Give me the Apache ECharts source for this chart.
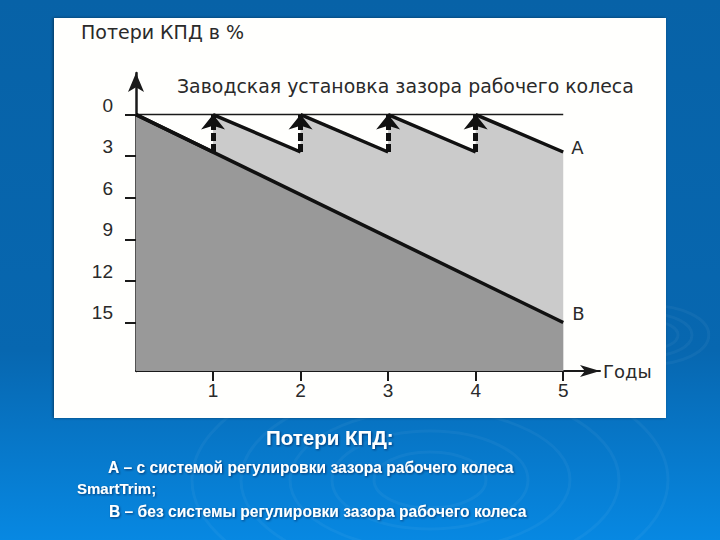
<!DOCTYPE html>
<html>
<head>
<meta charset="utf-8">
<script src="https://cdn.jsdelivr.net/npm/echarts@6/dist/echarts.min.js"></script>
<style>
  html, body { margin:0; padding:0; width:720px; height:540px; overflow:hidden;
    background: linear-gradient(to bottom, #0762a7 0%, #0767b0 65%, #0788e2 100%); }
  #chart { width:720px; height:540px; }
</style>
</head>
<body>
<div id="chart"></div>
<script>
// ---- data ----
const yTickValues = [0, 3, 6, 9, 12, 15];          // loss, %
const xTickValues = [1, 2, 3, 4, 5];               // years
const startYear = 0.12;                             // curves start at the vertical axis
const aYears = [0.12, 1, 1, 2, 2, 3, 3, 4, 4, 5];   // A: with SmartTrim (sawtooth)
const aLoss  = [0, 2.7, 0, 2.7, 0, 2.7, 0, 2.7, 0, 2.7];
const bYears = [0.12, 5];                           // B: without adjustment
const bLoss  = [0, 15];
const arrowYears = [1, 2, 3, 4];                    // factory gap resets
const arrowFromLoss = 2.7;
const arrowToLoss = 0;
const zeroYears = [0.12, 5];
const zeroLoss = [0, 0];

const FONT = '"Liberation Sans", Arial, sans-serif';
const CFONT = '"DejaVu Sans", sans-serif';

const aArea = aYears.map((x, i) => [x, aLoss[i]]);
const aLine = [];
aYears.forEach((x, i) => {
  if (i > 0 && x === aYears[i - 1]) aLine.push([x, '-']);
  aLine.push([x, aLoss[i]]);
});
const bData = bYears.map((x, i) => [x, bLoss[i]]);
const zeroData = zeroYears.map((x, i) => [x, zeroLoss[i]]);
const arrowData = arrowYears.map(x => [{ coord: [x, arrowFromLoss] }, { coord: [x, arrowToLoss] }]);

const chart = echarts.init(document.getElementById('chart'), null, { renderer: 'svg' });

const rings = [];
[[650, 335, [10, 20, 30, 42]], [430, 480, [40, 70, 100, 135, 170]]].forEach(([cx, cy, rs]) => {
  rs.forEach(r => rings.push({
    type: 'ellipse', silent: true, z: -10,
    shape: { cx, cy, rx: r * 1.4, ry: r * 0.7 },
    style: { fill: 'none', stroke: 'rgba(255,255,255,0.045)', lineWidth: 3 }
  }));
});

const shadow = { textShadowColor: 'rgba(0,0,40,0.55)', textShadowBlur: 2, textShadowOffsetX: 1, textShadowOffsetY: 1 };

chart.setOption({
  backgroundColor: 'transparent',
  animation: false,
  grid: { left: 136, top: 73, width: 464, height: 298, containLabel: false },
  graphic: [
    ...rings,
    { type: 'rect', z: -5, silent: true,
      shape: { x: 54, y: 18, width: 612, height: 400 },
      style: { fill: '#fffffd', shadowBlur: 3, shadowColor: 'rgba(0,0,0,0.45)', shadowOffsetX: -1 } },
    { type: 'text', left: 81, top: 22,
      style: { text: 'Потери КПД в %', font: '19px ' + CFONT, fill: '#2a2a2a' } },
    { type: 'text', left: 177, top: 76,
      style: { text: 'Заводская установка зазора рабочего колеса', font: '18.9px ' + CFONT, fill: '#2a2a2a' } },
    { type: 'text', left: 266, top: 427,
      style: Object.assign({ text: 'Потери КПД:', font: 'bold 20.5px ' + FONT, fill: '#ffffff' }, shadow) },
    { type: 'text', left: 108, top: 459,
      style: Object.assign({ text: 'А – с системой регулировки зазора рабочего колеса', font: 'bold 15.6px ' + FONT, fill: '#ffffff' }, shadow) },
    { type: 'text', left: 77, top: 481,
      style: Object.assign({ text: 'SmartTrim;', font: 'bold 15px ' + FONT, fill: '#ffffff' }, shadow) },
    { type: 'text', left: 109, top: 503,
      style: Object.assign({ text: 'В – без системы регулировки зазора рабочего колеса', font: 'bold 15.6px ' + FONT, fill: '#ffffff' }, shadow) }
  ],
  xAxis: {
    type: 'value', min: startYear, max: 5.42, position: 'bottom',
    name: 'Годы', nameLocation: 'end', nameGap: 3,
    nameTextStyle: { color: '#2a2a2a', fontSize: 18, fontFamily: CFONT, verticalAlign: 'middle', padding: [0, 0, 12, 0] },
    axisLine: { onZero: false, symbol: ['none', 'arrow'], symbolSize: [9, 20], lineStyle: { color: '#1a1a1a', width: 2 } },
    axisTick: { show: true, inside: false, length: 10, customValues: xTickValues, lineStyle: { color: '#1a1a1a', width: 2 } },
    axisLabel: { customValues: xTickValues, margin: 10, color: '#2a2a2a', fontSize: 19, fontFamily: FONT },
    splitLine: { show: false }
  },
  yAxis: {
    type: 'value', inverse: true, min: -3, max: 18.5, interval: 3,
    axisLine: { onZero: false, symbol: ['none', 'arrow'], symbolSize: [12, 19], lineStyle: { color: '#1a1a1a', width: 2.5 } },
    axisTick: { show: true, inside: false, length: 11, customValues: yTickValues, lineStyle: { color: '#1a1a1a', width: 2 } },
    axisLabel: { customValues: yTickValues, margin: 23, color: '#2a2a2a', fontSize: 19, fontFamily: FONT, verticalAlign: 'bottom' },
    splitLine: { show: false }
  },
  series: [
    { name: 'A area', type: 'line', data: aArea, symbol: 'none', silent: true, z: 1,
      lineStyle: { width: 0 }, areaStyle: { color: '#cbcbcb', opacity: 1, origin: 'end' } },
    { name: 'B area', type: 'line', data: bData, symbol: 'none', silent: true, z: 2,
      lineStyle: { width: 0 }, areaStyle: { color: '#999999', opacity: 1, origin: 'end' } },
    { name: 'zero', type: 'line', data: zeroData, symbol: 'none', silent: true, z: 3,
      lineStyle: { color: '#1a1a1a', width: 1.5 } },
    { name: 'A', type: 'line', data: aLine, symbol: 'none', connectNulls: false, z: 4,
      lineStyle: { color: '#111111', width: 3.5 },
      endLabel: { show: true, formatter: 'A', color: '#2a2a2a', fontSize: 18, fontFamily: CFONT, distance: 8, offset: [0, -5] } },
    { name: 'B', type: 'line', data: bData, symbol: 'none', z: 4,
      lineStyle: { color: '#111111', width: 3.5 },
      endLabel: { show: true, formatter: 'B', color: '#2a2a2a', fontSize: 18, fontFamily: CFONT, distance: 9, offset: [0, -9] } },
    { name: 'arrows', type: 'line', data: [], z: 5,
      markLine: { silent: true, symbol: ['none', 'arrow'], symbolSize: [18, 15],
        label: { show: false },
        lineStyle: { color: '#111111', width: 5, type: [8, 3] },
        data: arrowData } }
  ]
});
</script>
</body>
</html>
